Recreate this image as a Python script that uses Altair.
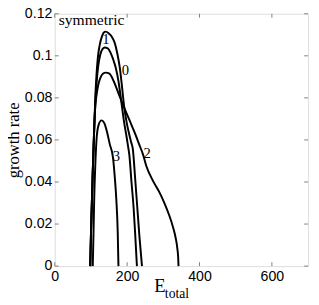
import altair as alt
import pandas as pd

# ---- data ----
shared_x = [98, 100, 102.5, 105, 107.5, 110]
shared_y = [0, 0.015, 0.03, 0.045, 0.058, 0.07]

c0_x = shared_x + [112, 115, 119, 124, 130, 135, 141, 150, 158, 165, 173, 180, 186, 192, 199, 206, 211, 216, 222, 228, 234, 241]
c0_y = shared_y + [0.08, 0.09, 0.099, 0.105, 0.109, 0.111, 0.1115, 0.1105, 0.109, 0.1065, 0.101, 0.094, 0.085, 0.0755, 0.068, 0.0625, 0.059, 0.0553, 0.042, 0.028, 0.014, 0]

c1_x = shared_x + [112.5, 116, 120, 125, 131, 138, 147, 154, 162, 169, 176, 181, 186, 192, 198, 203, 206, 212, 218, 222, 227]
c1_y = shared_y + [0.079, 0.088, 0.095, 0.1, 0.103, 0.104, 0.1035, 0.1015, 0.098, 0.094, 0.088, 0.082, 0.0755, 0.068, 0.062, 0.0565, 0.053, 0.04, 0.0274, 0.016, 0]

c2_x = shared_x + [112, 116, 120, 126, 133, 141, 151, 163, 172, 181, 191, 199, 210, 222, 233, 244, 253, 270, 289, 303, 316, 326, 334, 339, 341, 342]
c2_y = shared_y + [0.076, 0.082, 0.086, 0.0895, 0.0915, 0.092, 0.0915, 0.0879, 0.084, 0.08, 0.0757, 0.0724, 0.068, 0.063, 0.058, 0.053, 0.0476, 0.041, 0.0352, 0.03, 0.0243, 0.019, 0.0135, 0.008, 0.0042, 0]

c3_x = [105, 107, 109, 112, 116, 121, 129, 137, 143, 152, 161, 166, 170, 174, 176]
c3_y = [0, 0.015, 0.032, 0.048, 0.0615, 0.067, 0.0693, 0.068, 0.0647, 0.058, 0.0515, 0.042, 0.032, 0.016, 0]

label_text = ["symmetric", "1", "0", "3", "2"]
label_x = [11, 141, 195, 170.5, 255]
label_y = [0.1145, 0.108, 0.0933, 0.0522, 0.0535]
label_align = ["left", "center", "center", "center", "center"]

x_ticks = [0, 200, 400, 600]
y_ticks = [0, 0.02, 0.04, 0.06, 0.08, 0.1, 0.12]

# ---- build tables ----
rows = []
for cid, xs, ys in [("0", c0_x, c0_y), ("1", c1_x, c1_y), ("2", c2_x, c2_y), ("3", c3_x, c3_y)]:
    for i, (xv, yv) in enumerate(zip(xs, ys)):
        rows.append({"curve": cid, "x": xv, "y": yv, "i": i})
df = pd.DataFrame(rows)
labels = pd.DataFrame({"label": label_text, "x": label_x, "y": label_y, "align": label_align})
xt = pd.DataFrame({"v": x_ticks})
yt = pd.DataFrame({"v": y_ticks})

W, H = 260, 259
GRAY = "#7f7f7f"
xscale = alt.Scale(domain=[0, 700], nice=False, zero=False)
yscale = alt.Scale(domain=[0, 0.12], nice=False)

lines = alt.Chart(df).mark_line(strokeWidth=2, interpolate="monotone").encode(
    x=alt.X("x:Q", scale=xscale, axis=alt.Axis(values=x_ticks, title=None, grid=False, domain=False,
                                                 tickSize=0, labelPadding=4, labelFlush=False,
                                                 labelFont="Liberation Sans", labelFontSize=14.5,
                                                 labelColor="black")),
    y=alt.Y("y:Q", scale=yscale, axis=alt.Axis(values=y_ticks, labelExpr="format(datum.value, '.2~f')",
                                                 title="growth rate",
                                                 grid=False, domain=False, tickSize=0, labelPadding=3,
                                                 labelFont="Liberation Sans", labelFontSize=14.5,
                                                 labelColor="black", titleFont="Liberation Serif",
                                                 titleFontSize=17, titleFontWeight="normal",
                                                 titlePadding=2, titleColor="black")),
    detail="curve:N",
    order="i:Q",
    color=alt.value("black"),
)

left_lab = alt.Chart(labels[labels["align"] == "left"]).mark_text(
    font="Liberation Serif", fontSize=16, align="left", baseline="alphabetic"
).encode(x=alt.X("x:Q", scale=xscale), y=alt.Y("y:Q", scale=yscale), text="label:N",
         color=alt.value("black"))

ctr_lab = alt.Chart(labels[labels["align"] == "center"]).mark_text(
    font="Liberation Serif", fontSize=15, align="center", baseline="middle"
).encode(x=alt.X("x:Q", scale=xscale), y=alt.Y("y:Q", scale=yscale), text="label:N",
         color=alt.value("black"))

tick_b = alt.Chart(xt).mark_rule(strokeWidth=1).encode(
    x=alt.X("v:Q", scale=xscale), y=alt.value(H), y2=alt.value(H - 4), color=alt.value(GRAY))
tick_t = alt.Chart(xt).mark_rule(strokeWidth=1).encode(
    x=alt.X("v:Q", scale=xscale), y=alt.value(0), y2=alt.value(4), color=alt.value(GRAY))
tick_l = alt.Chart(yt).mark_rule(strokeWidth=1).encode(
    y=alt.Y("v:Q", scale=yscale), x=alt.value(0), x2=alt.value(4), color=alt.value(GRAY))
tick_r = alt.Chart(yt).mark_rule(strokeWidth=1).encode(
    y=alt.Y("v:Q", scale=yscale), x=alt.value(W), x2=alt.value(W - 4), color=alt.value(GRAY))

title_df = pd.DataFrame({"t": ["E"]})
e_title = alt.Chart(title_df).mark_text(
    font="Liberation Serif", fontSize=19, align="left", baseline="alphabetic"
).encode(x=alt.value(102), y=alt.value(286), text="t:N", color=alt.value("black"))
sub_df = pd.DataFrame({"t": ["total"]})
sub_title = alt.Chart(sub_df).mark_text(
    font="Liberation Serif", fontSize=14, align="left", baseline="alphabetic"
).encode(x=alt.value(113), y=alt.value(292), text="t:N", color=alt.value("black"))

chart = alt.layer(tick_b, tick_t, tick_l, tick_r, lines, left_lab, ctr_lab, e_title, sub_title).properties(
    width=W, height=H,
    autosize=alt.AutoSizeParams(type="none"),
    padding={"left": 48, "top": 2, "right": 3, "bottom": 36},
).configure_view(stroke=GRAY, strokeWidth=1.5).configure(background="white")

chart.save("out.html", embed_options={"renderer": "svg", "actions": False})
